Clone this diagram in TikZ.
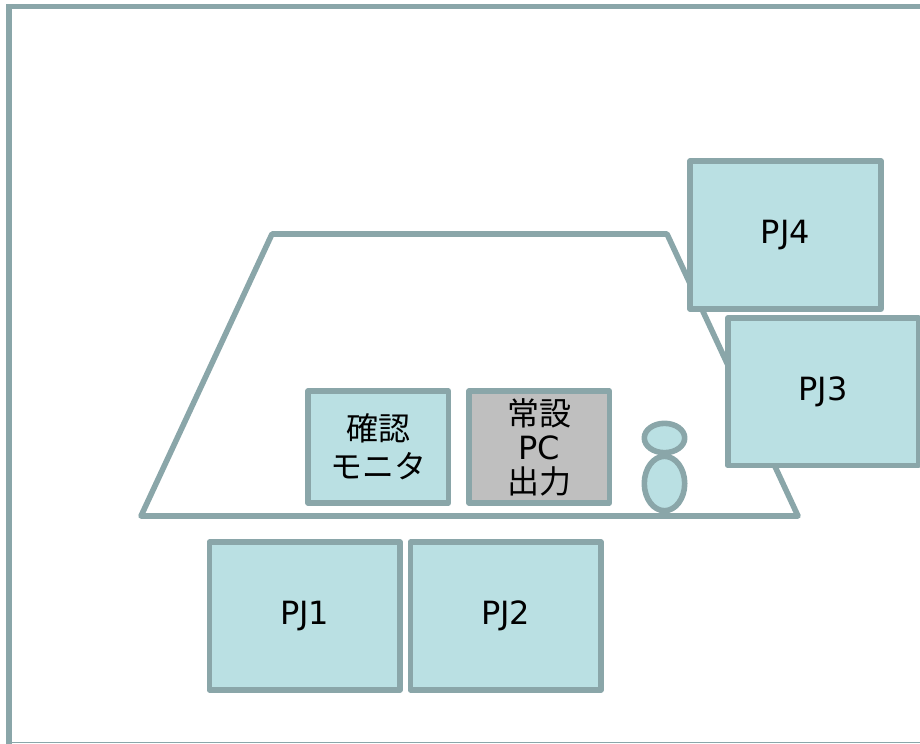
\documentclass[tikz,border=0pt]{standalone}
\usepackage{fontspec}
\setmainfont{DejaVu Sans}
\newfontfamily\jpfont{Noto Sans CJK JP}
\usetikzlibrary{shapes.geometric}
\definecolor{edgec}{HTML}{8AA6A9}
\definecolor{fillc}{HTML}{BAE0E3}
\definecolor{grayc}{HTML}{BFBFBF}
\tikzset{
  shape line/.style={draw=edgec,line width=4.2pt,line join=round},
  pjbox/.style={shape line,fill=fillc,rectangle,inner sep=0pt,outer sep=0pt,text=black,font=\fontsize{24pt}{28pt}\selectfont,align=center,minimum width=143pt,minimum height=110.8pt},
  smallbox/.style={pjbox,minimum width=105.2pt,minimum height=84pt},
  graybox/.style={smallbox,fill=grayc,font=\fontsize{24pt}{25.5pt}\selectfont},
  person/.style={shape line,fill=fillc,ellipse,inner sep=0pt,outer sep=0pt,minimum width=30.3pt},
}
\begin{document}
\begin{tikzpicture}[x=0.75pt,y=-0.75pt]
\useasboundingbox (0,0) rectangle (920,743);
\begin{scope}
\clip (0,0) rectangle (920,743);
\draw[draw=edgec,line width=4.2pt] (925,6.5) -- (9,6.5) -- (9,750);
\draw[draw=edgec,line width=0.9pt] (9,742.5) -- (925,742.5);
\end{scope}
\draw[shape line] (272,234) -- (667,234) -- (798,516) -- (141,516) -- cycle;
\node[pjbox] (pj4) at (785.5,235) {PJ4};
\node[pjbox] (pj3) at (823.2,391.7) {PJ3};
\node[pjbox] (pj1) at (304.8,616) {PJ1};
\node[pjbox] (pj2) at (505.8,616) {PJ2};
\node[smallbox] (mon) at (378.2,447) {\raisebox{2pt}{\jpfont 確認}\\[0.5pt]\raisebox{2pt}{\jpfont モニタ}};
\node[graybox] (pc) at (539.3,447) {\raisebox{-3.5pt}{\jpfont 常設}\\\raisebox{-3.5pt}{PC}\\\raisebox{-3.5pt}{\jpfont 出力}};
\node[person,minimum height=40.8pt] (body) at (664.5,483.5) {};
\node[person,minimum height=22pt] (head) at (664.5,438) {};
\end{tikzpicture}
\end{document}
